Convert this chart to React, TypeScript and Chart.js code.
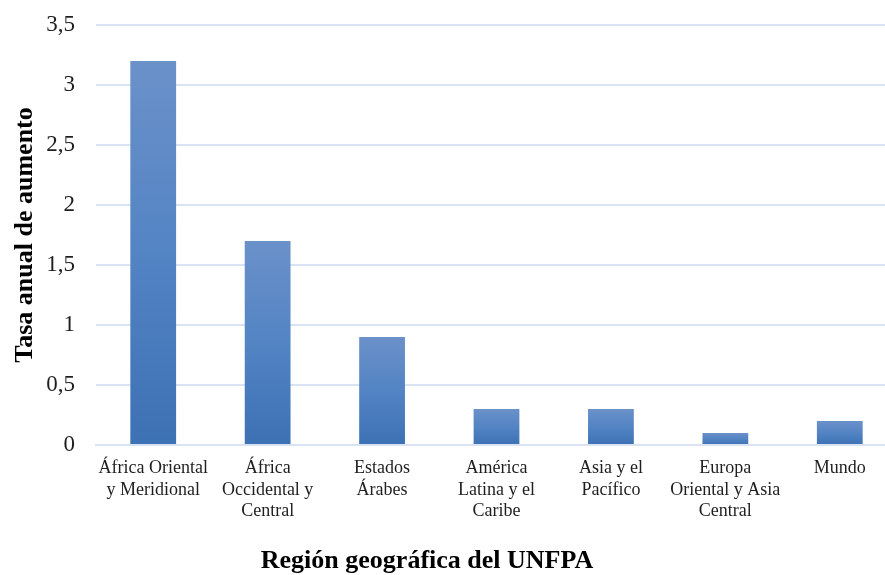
import React, { useEffect, useRef } from "react";
import { Chart, registerables } from "chart.js";

Chart.register(...registerables);

const categories: string[][] = [
  ["África Oriental", "y Meridional"],
  ["África", "Occidental y", "Central"],
  ["Estados", "Árabes"],
  ["América", "Latina y el", "Caribe"],
  ["Asia y el", "Pacífico"],
  ["Europa", "Oriental y Asia", "Central"],
  ["Mundo"],
];
const values: number[] = [3.2, 1.7, 0.9, 0.3, 0.3, 0.1, 0.2];
const yTitle = "Tasa anual de aumento";
const xTitle = "Región geográfica del UNFPA";

const FONT = "'Liberation Serif', 'Times New Roman', serif";

const xTitlePlugin = {
  id: "xTitlePlugin",
  afterDraw(chart: any) {
    const { ctx, chartArea } = chart;
    ctx.save();
    ctx.font = `bold 26px ${FONT}`;
    ctx.fillStyle = "#000";
    ctx.textAlign = "center";
    ctx.textBaseline = "middle";
    ctx.fillText(xTitle, chartArea.left + 331, chart.height - 14);
    ctx.restore();
  },
};

export default function App() {
  const ref = useRef<HTMLCanvasElement | null>(null);

  useEffect(() => {
    document.body.style.margin = "0";
    document.body.style.overflow = "hidden";
    document.documentElement.style.overflow = "hidden";
    const canvas = ref.current;
    if (!canvas) return;
    const chart = new Chart(canvas, {
      type: "bar",
      data: {
        labels: categories,
        datasets: [
          {
            data: values,
            backgroundColor: (ctx: any) => {
              const c = ctx.chart;
              const area = c.chartArea;
              if (!area || ctx.type !== "data") return "#4f7fc0";
              const ys = c.scales.y;
              const top = ys.getPixelForValue(ctx.parsed.y);
              const bottom = ys.getPixelForValue(0);
              const g = c.ctx.createLinearGradient(0, top, 0, bottom);
              g.addColorStop(0, "#6b91c9");
              g.addColorStop(0.5, "#5384c4");
              g.addColorStop(1, "#3c71b4");
              return g;
            },
            borderWidth: 0,
            categoryPercentage: 1,
            barPercentage: 0.4,
          },
        ],
      },
      options: {
        animation: false,
        responsive: true,
        maintainAspectRatio: false,
        layout: { padding: { top: 25, right: 0, left: 0, bottom: 0 } },
        plugins: {
          legend: { display: false },
          tooltip: { enabled: false },
        },
        scales: {
          x: {
            grid: { display: false, drawTicks: false },
            border: { display: true, color: "#d9e3f1", width: 2 },
            ticks: {
              color: "#1e1e1e",
              font: { family: FONT, size: 18, lineHeight: 1.18 },
              padding: 13,
              maxRotation: 0,
              autoSkip: false,
            },
            title: { display: false },
            afterFit: (s: any) => {
              s.height = 130;
              s.paddingLeft = 0;
              s.paddingRight = 0;
            },
          },
          y: {
            min: 0,
            max: 3.5,
            grid: { color: "#d9e3f1", lineWidth: 2, drawTicks: false },
            border: { display: false },
            ticks: {
              stepSize: 0.5,
              color: "#1e1e1e",
              font: { family: FONT, size: 23 },
              padding: 21,
              callback: (v: any) => String(v).replace(".", ","),
            },
            title: {
              display: true,
              text: yTitle,
              color: "#000",
              font: { family: FONT, size: 26, weight: "bold", lineHeight: 1.1 },
              padding: { top: 11, bottom: 0 },
            },
            afterFit: (s: any) => {
              s.width = 96;
              s.paddingTop = 0;
              s.paddingBottom = 0;
            },
          },
        },
      },
      plugins: [xTitlePlugin],
    });
    return () => chart.destroy();
  }, []);

  return (
    <div style={{ width: 897, height: 575, position: "relative", overflow: "hidden" }}>
      <canvas ref={ref} />
    </div>
  );
}
